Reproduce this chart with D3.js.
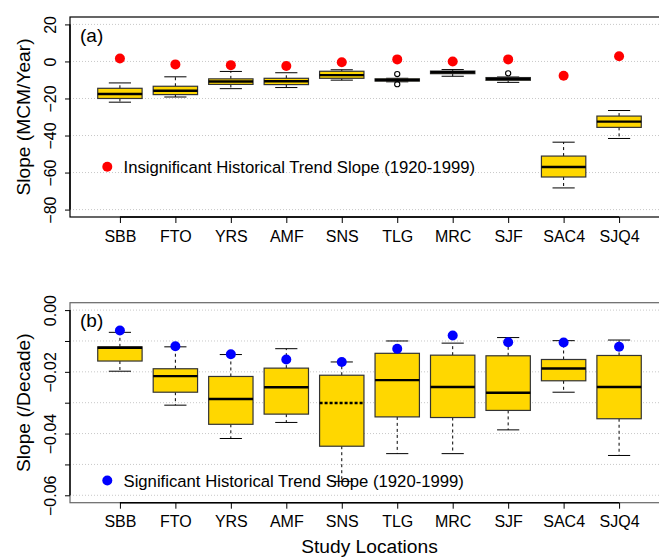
<!DOCTYPE html>
<html>
<head>
<meta charset="utf-8">
<script src="https://cdn.jsdelivr.net/npm/d3@7"></script>
<style>
  html, body { margin: 0; padding: 0; background: #fff; }
  svg { display: block; font-family: "Liberation Sans", Arial, Helvetica, sans-serif; }
</style>
</head>
<body>
<svg id="chart" width="659" height="558"></svg>
<script>
// ---------------- DATA ----------------
const categories = ["SBB", "FTO", "YRS", "AMF", "SNS", "TLG", "MRC", "SJF", "SAC4", "SJQ4"];

// Panel (a): Slope (MCM/Year)
const histSlopeA   = [1.6, -1.6, -2.0, -2.5, -0.4, 1.1, 0.0, 1.1, -7.7, 2.8];
const whiskerHighA = [-11.6, -8.3, -5.4, -6.1, -4.5, -9.1, -4.4, -8.4, -43.6, -26.5];
const q3A          = [-14.5, -13.4, -9.4, -9.1, -5.3, -9.4, -5.2, -8.7, -51.1, -29.5];
const medianA      = [-17.6, -15.8, -10.8, -10.7, -7.4, -10.0, -5.8, -9.4, -57.0, -32.5];
const q1A          = [-20.0, -17.9, -12.4, -12.5, -9.1, -10.6, -6.6, -10.2, -62.4, -35.6];
const whiskerLowA  = [-22.0, -19.2, -14.7, -14.1, -10.1, -11.0, -8.0, -11.3, -68.3, -41.6];
const outliersA    = [[], [], [], [], [], [-6.8, -12.3], [], [-6.4], [], []];
const yTicksA      = [20, 0, -20, -40, -60, -80];

// Panel (b): Slope (/Decade)
const histSlopeB   = [-0.0066, -0.0117, -0.0143, -0.0160, -0.0168, -0.0125, -0.0082, -0.0104, -0.0105, -0.0119];
const whiskerHighB = [-0.0072, -0.0119, -0.0144, -0.0125, -0.0168, -0.0100, -0.0107, -0.0089, -0.0099, -0.0097];
const q3B          = [-0.0119, -0.0190, -0.0215, -0.0188, -0.0211, -0.0140, -0.0146, -0.0148, -0.0160, -0.0147];
const medianB      = [-0.0122, -0.0214, -0.0288, -0.0250, -0.0301, -0.0227, -0.0249, -0.0268, -0.0189, -0.0249];
const q1B          = [-0.0165, -0.0266, -0.0370, -0.0337, -0.0441, -0.0346, -0.0348, -0.0325, -0.0229, -0.0352];
const whiskerLowB  = [-0.0198, -0.0308, -0.0416, -0.0364, -0.0555, -0.0465, -0.0465, -0.0388, -0.0266, -0.0471];
const outliersB    = [[], [], [], [], [], [], [], [], [], []];
const yTicksB      = [0, -0.01, -0.02, -0.03, -0.04, -0.05, -0.06];
const yLabelsB     = [0, -0.02, -0.04, -0.06];

const legendA = "Insignificant Historical Trend Slope (1920-1999)";
const legendB = "Significant Historical Trend Slope (1920-1999)";

// ---------------- DRAW ----------------
const svg = d3.select("#chart");
const FONT = 16;
const LEGEND_FONT = 16.7;

const x = d3.scaleLinear().domain([0.1, 10.9]).range([70, 669]);
const boxHalf = (x(1.4) - x(1)) ;
const capHalf = (x(1.2) - x(1));

function panel(opts) {
  const g = svg.append("g");
  const y = d3.scaleLinear().domain(opts.domain).range([opts.bottom, opts.top]);
  const left = 70, right = 669;

  // grid
  g.selectAll("line.grid").data(opts.grid).join("line")
    .attr("x1", left).attr("x2", right)
    .attr("y1", d => y(d)).attr("y2", d => y(d))
    .attr("stroke", "#c8c8c8").attr("stroke-width", 1)
    .attr("stroke-dasharray", "1,2");

  // boxes
  const data = categories.map((c, i) => ({
    c, i, pos: i + 1,
    lo: opts.wLow[i], q1: opts.q1[i], med: opts.med[i], q3: opts.q3[i], hi: opts.wHigh[i],
    out: opts.out[i], pt: opts.pts[i]
  }));

  const bg = g.selectAll("g.box").data(data).join("g");
  // whiskers (dashed)
  bg.append("line").attr("x1", d => x(d.pos)).attr("x2", d => x(d.pos))
    .attr("y1", d => y(d.q3)).attr("y2", d => y(d.hi))
    .attr("stroke", "#000").attr("stroke-dasharray", "3,3");
  bg.append("line").attr("x1", d => x(d.pos)).attr("x2", d => x(d.pos))
    .attr("y1", d => y(d.q1)).attr("y2", d => y(d.lo))
    .attr("stroke", "#000").attr("stroke-dasharray", "3,3");
  // caps
  bg.append("line").attr("x1", d => x(d.pos) - capHalf).attr("x2", d => x(d.pos) + capHalf)
    .attr("y1", d => y(d.hi)).attr("y2", d => y(d.hi)).attr("stroke", "#000");
  bg.append("line").attr("x1", d => x(d.pos) - capHalf).attr("x2", d => x(d.pos) + capHalf)
    .attr("y1", d => y(d.lo)).attr("y2", d => y(d.lo)).attr("stroke", "#000");
  // box
  bg.append("rect")
    .attr("x", d => x(d.pos) - boxHalf).attr("width", 2 * boxHalf)
    .attr("y", d => y(d.q3)).attr("height", d => Math.max(1, y(d.q1) - y(d.q3)))
    .attr("fill", "#FFD700").attr("stroke", "#333").attr("stroke-width", 1.2);
  // median
  bg.append("line")
    .attr("x1", d => x(d.pos) - boxHalf).attr("x2", d => x(d.pos) + boxHalf)
    .attr("y1", d => y(d.med)).attr("y2", d => y(d.med))
    .attr("stroke", "#000").attr("stroke-width", 2.4)
    .attr("stroke-dasharray", d => (opts.dottedMedian === d.i ? "3,2" : null));
  // outliers
  bg.selectAll("circle.out").data(d => d.out.map(v => ({ pos: d.pos, v }))).join("circle")
    .attr("cx", d => x(d.pos)).attr("cy", d => y(d.v)).attr("r", 2.6)
    .attr("fill", "none").attr("stroke", "#000").attr("stroke-width", 1.1);
  // historical points
  g.selectAll("circle.pt").data(data).join("circle")
    .attr("cx", d => x(d.pos)).attr("cy", d => y(d.pt)).attr("r", 5)
    .attr("fill", opts.ptColor);

  // frame
  g.append("rect").attr("x", left).attr("y", opts.top)
    .attr("width", right - left).attr("height", opts.bottom - opts.top)
    .attr("fill", "none").attr("stroke", opts.frameColor).attr("stroke-width", 1.2);

  // x axis
  const xAxis = d3.axisBottom(x).tickValues(d3.range(1, categories.length + 1))
    .tickFormat(d => categories[d - 1]).tickSize(6).tickSizeOuter(0);
  const xa = g.append("g").attr("transform", `translate(0,${opts.bottom})`).call(xAxis);
  xa.select(".domain").attr("d", `M${x(1)},0H${x(categories.length)}`).attr("stroke", "#000").attr("stroke-width", 1.4);
  xa.selectAll(".tick line").attr("stroke", "#000");
  xa.selectAll(".tick text").attr("font-size", FONT).attr("fill", "#000").attr("dy", null).attr("y", 24.5);

  // y axis
  const yAxis = d3.axisLeft(y).tickValues(opts.yTicks).tickSize(5).tickSizeOuter(0)
    .tickFormat(d => opts.yLabels.some(v => Math.abs(v - d) < 1e-9) ? opts.fmt(d) : "");
  const ya = g.append("g").attr("transform", `translate(${left},0)`).call(yAxis);
  ya.select(".domain").attr("d", `M0,${y(d3.max(opts.yTicks))}V${y(d3.min(opts.yTicks))}`).attr("stroke", "#000").attr("stroke-width", 1.4);
  ya.selectAll(".tick line").attr("stroke", "#000");
  ya.selectAll(".tick text").attr("font-size", FONT).attr("fill", "#000")
    .attr("text-anchor", "middle").attr("x", null).attr("dy", null)
    .attr("transform", "translate(-14,0) rotate(-90)");

  // y title
  g.append("text").attr("transform", `translate(30,${(opts.top + opts.bottom) / 2}) rotate(-90)`)
    .attr("text-anchor", "middle").attr("font-size", 19.2).text(opts.yTitle);

  // panel label
  g.append("text").attr("x", 80).attr("y", opts.top + 24.5).attr("font-size", 19).text(opts.label);

  // legend
  g.append("circle").attr("cx", 107.3).attr("cy", opts.legendY - 6.5).attr("r", 5).attr("fill", opts.ptColor);
  g.append("text").attr("x", 123.5).attr("y", opts.legendY).attr("font-size", LEGEND_FONT).text(opts.legend);
}

panel({
  domain: [-84, 24], top: 17, bottom: 217,
  grid: yTicksA, yTicks: yTicksA, yLabels: yTicksA, fmt: d3.format("d"),
  wLow: whiskerLowA, q1: q1A, med: medianA, q3: q3A, wHigh: whiskerHighA, out: outliersA, pts: histSlopeA,
  ptColor: "#FF0000", frameColor: "#000",
  yTitle: "Slope (MCM/Year)", label: "(a)", legend: legendA, legendY: 173.3, dottedMedian: -1
});

panel({
  domain: [-0.0624, 0.0024], top: 302.7, bottom: 502.7,
  grid: yTicksB, yTicks: yTicksB, yLabels: yLabelsB, fmt: d3.format(".2f"),
  wLow: whiskerLowB, q1: q1B, med: medianB, q3: q3B, wHigh: whiskerHighB, out: outliersB, pts: histSlopeB,
  ptColor: "#0000FF", frameColor: "#666",
  yTitle: "Slope (/Decade)", label: "(b)", legend: legendB, legendY: 487, dottedMedian: 4
});

svg.append("text").attr("x", 369.5).attr("y", 553).attr("text-anchor", "middle")
  .attr("font-size", 19.2).text("Study Locations");
</script>
</body>
</html>
